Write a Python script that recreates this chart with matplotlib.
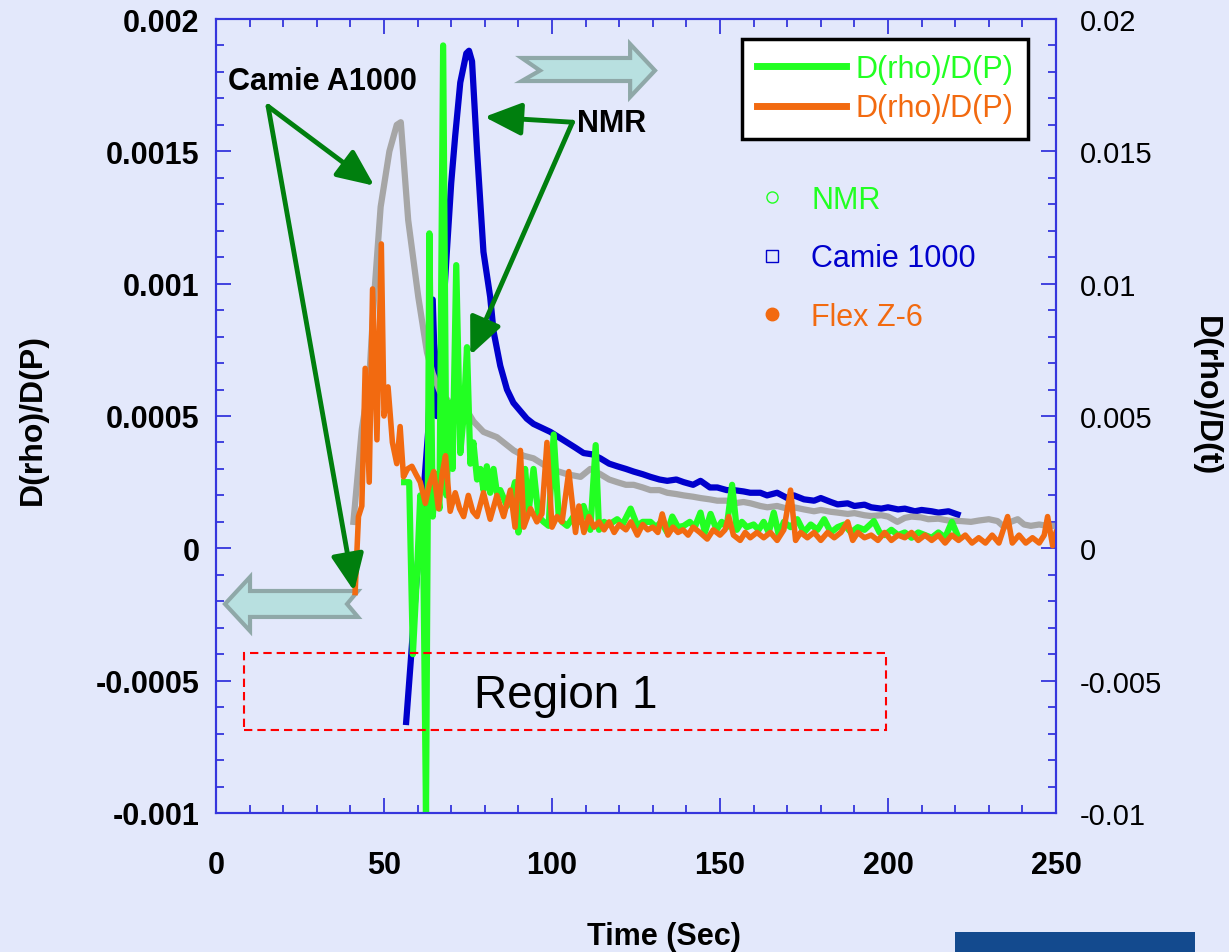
import matplotlib
matplotlib.use('Agg')
import matplotlib.pyplot as plt
from matplotlib.lines import Line2D
from matplotlib.patches import Polygon, Rectangle
from matplotlib.ticker import MultipleLocator, FuncFormatter

plt.rcParams['font.family'] = ['Liberation Sans', 'DejaVu Sans']

# NMR, D(rho)/D(P) -> left axis  (time, value)
nmr_pts = [(56.0, 0.00025), (57.5, 0.00025), (58.6, -0.0004), (59.8, -0.0001), (60.8, 0.0002),
           (61.6, 0.0001), (62.5, -0.001), (63.5, 0.00119), (64.5, 0.00012), (65.5, 0.00028),
           (66.5, 0.00015), (67.6, 0.0019), (68.6, 0.0002), (69.6, 0.00055), (70.4, 0.0003),
           (71.5, 0.00107), (72.7, 0.00036), (73.7, 0.0005), (74.7, 0.00076), (75.7, 0.00032),
           (76.6, 0.0004), (77.7, 0.00026), (78.7, 0.0003), (79.6, 0.00022), (80.6, 0.00031),
           (81.6, 0.00021), (82.6, 0.0003), (83.6, 0.00021), (84.6, 0.00022), (85.6, 0.00019),
           (86.6, 0.00016), (88.0, 0.0002), (89.0, 0.00025), (90.0, 0.00006), (91.0, 0.0002),
           (92.0, 0.0003), (93.0, 0.000135), (94.5, 0.0003), (96.0, 0.00012), (97.5, 0.0001),
           (99.0, 0.000085), (100.5, 0.00043), (102.0, 0.00012), (103.0, 0.0001), (104.5, 0.000085),
           (106.4, 0.00012), (108.0, 0.0001), (109.4, 0.00016), (111.4, 0.00007), (113.0, 0.00039),
           (114.0, 0.00007), (115.5, 0.0001), (117.0, 0.00009), (119.4, 0.00011), (121.0, 0.00009),
           (123.4, 0.00015), (125.4, 0.000085), (127.0, 0.0001), (129.3, 0.0001), (131.0, 0.00008),
           (132.5, 0.0001), (134.3, 0.00006), (135.8, 0.00012), (137.5, 0.00008), (139.2, 0.000085),
           (141.0, 0.0001), (142.5, 0.00008), (144.2, 0.000135), (145.5, 0.00006), (147.2, 0.00013),
           (149.0, 0.00007), (150.5, 0.0001), (152.0, 0.00008), (153.6, 0.00024), (155.0, 0.00007),
           (156.5, 0.0001), (158.0, 0.00008), (160.0, 0.00009), (161.5, 0.00007), (163.0, 0.0001),
           (164.5, 0.00006), (166.0, 0.000135), (167.5, 0.00005), (169.0, 0.0001), (171.0, 0.00008),
           (173.0, 0.00011), (175.0, 0.00006), (177.0, 0.00009), (179.0, 0.00007), (181.0, 0.00011),
           (183.0, 0.00006), (185.0, 0.00008), (187.0, 0.00009), (189.0, 0.00006), (191.0, 0.00008),
           (193.0, 0.00007), (195.8, 0.000103), (197.5, 0.00006), (199.0, 0.00005), (201.0, 0.00007),
           (203.0, 0.00005), (205.0, 0.00006), (207.0, 0.00004), (209.0, 0.00006), (211.0, 0.00005),
           (213.0, 0.00004), (215.0, 0.00006), (217.0, 0.00004), (219.0, 0.0001), (221.0, 0.00004)]

# Flex Z-6, D(rho)/D(P) -> left axis
flex_pts = [(41.4, -0.000167), (42.4, 0.00012), (43.4, 0.00016), (44.4, 0.00068), (45.6, 0.00025),
            (46.6, 0.00098), (47.9, 0.00041), (49.2, 0.00115), (50.0, 0.0005), (51.2, 0.00061),
            (52.5, 0.0004), (53.8, 0.00032), (54.8, 0.00046), (55.8, 0.00027), (57.0, 0.0003),
            (58.3, 0.00031), (59.5, 0.00028), (60.8, 0.00025), (62.3, 0.00017), (63.5, 0.00024),
            (64.8, 0.00029), (66.2, 0.00015), (67.3, 0.00028), (68.3, 0.00035), (69.7, 0.00014),
            (71.2, 0.00021), (72.5, 0.00015), (73.7, 0.00012), (75.1, 0.0002), (76.4, 0.00014),
            (77.7, 0.00012), (79.6, 0.00021), (81.6, 0.00011), (83.6, 0.0002), (85.6, 0.00012),
            (87.6, 0.00022), (89.0, 0.00008), (90.6, 0.00037), (91.6, 0.00008), (93.6, 0.00015),
            (95.5, 0.0001), (97.0, 0.00013), (98.5, 0.0004), (100.0, 0.00008), (101.5, 0.00012),
            (103.0, 0.0001), (105.0, 0.00029), (107.0, 0.00006), (108.0, 0.00016), (109.5, 0.00006),
            (111.0, 0.00012), (112.5, 0.00008), (114.0, 0.0001), (115.5, 0.00007), (117.0, 0.0001),
            (118.5, 0.00006), (120.0, 0.00009), (122.0, 0.00007), (123.5, 0.0001), (125.4, 0.00005),
            (127.0, 0.00009), (128.5, 0.00007), (130.0, 0.00008), (131.5, 0.00006), (132.8, 0.00013),
            (134.5, 0.00005), (136.0, 0.00008), (137.5, 0.00006), (139.0, 0.00007), (140.5, 0.00005),
            (142.0, 0.00008), (144.0, 0.00006), (146.2, 0.000035), (148.0, 0.00007), (150.0, 0.00005),
            (151.5, 0.00007), (152.6, 0.00012), (154.0, 0.00005), (156.0, 0.00003), (157.5, 0.00006),
            (159.0, 0.00004), (161.0, 0.00006), (163.0, 0.00004), (165.0, 0.00006), (167.0, 0.00003),
            (169.0, 0.00007), (171.0, 0.00022), (172.5, 0.00003), (174.0, 0.00006), (176.0, 0.00004),
            (178.0, 0.00006), (180.0, 0.00003), (182.0, 0.00006), (184.0, 0.00004), (186.0, 0.00006),
            (188.0, 0.0001), (189.5, 0.00003), (191.0, 0.00006), (193.0, 0.00004), (195.0, 0.00005),
            (197.0, 0.00003), (199.0, 0.00006), (201.0, 0.00003), (203.0, 0.00005), (205.0, 0.00004),
            (207.0, 0.00006), (209.0, 0.00003), (211.0, 0.00005), (213.0, 0.00003), (215.0, 0.00005),
            (217.0, 0.00002), (219.0, 0.00005), (221.0, 0.00003), (223.0, 0.00005), (225.0, 0.00002),
            (227.0, 0.00004), (229.0, 0.00002), (231.0, 0.00005), (233.0, 0.00002), (235.6, 0.00012),
            (237.0, 0.00002), (239.0, 0.00005), (241.0, 0.00002), (243.0, 0.00004), (245.0, 0.00002),
            (246.5, 0.00005), (247.5, 0.00012), (249.0, 0.00001), (250.0, 0.00006)]

# Camie 1000, D(rho)/D(t) -> right axis
camie_pts = [(56.6, -0.00656), (58.0, -0.0042), (59.8, -0.001), (61.7, 0.002), (63.2, 0.0045),
             (64.5, 0.0094), (65.6, 0.005), (67.5, 0.0087), (68.7, 0.0112), (70.0, 0.0138),
             (71.2, 0.0156), (72.7, 0.0176), (74.5, 0.0187), (75.3, 0.0188), (76.2, 0.0184),
             (77.7, 0.015), (79.6, 0.0112), (81.6, 0.0095), (82.6, 0.0082), (84.6, 0.0069),
             (86.6, 0.006), (88.5, 0.0055), (90.5, 0.0052), (92.5, 0.0049), (94.5, 0.0047),
             (97.0, 0.00455), (99.5, 0.0044), (102.0, 0.0042), (104.5, 0.004), (107.0, 0.0038),
             (109.4, 0.0036), (112.0, 0.00355), (114.4, 0.0034), (117.0, 0.0032), (119.4, 0.0031),
             (122.0, 0.003), (124.3, 0.0029), (127.0, 0.0028), (129.3, 0.0027), (132.0, 0.0026),
             (134.3, 0.00255), (137.0, 0.0026), (139.2, 0.0025), (142.0, 0.0024), (144.2, 0.00255),
             (147.0, 0.0023), (149.2, 0.0023), (152.0, 0.0022), (154.1, 0.0022), (157.0, 0.00215),
             (159.0, 0.0021), (162.0, 0.0021), (164.0, 0.002), (167.0, 0.0021), (170.0, 0.0019),
             (172.0, 0.002), (175.0, 0.00185), (178.0, 0.0018), (180.0, 0.0019), (183.0, 0.00175),
             (185.0, 0.00166), (188.0, 0.0017), (190.0, 0.0016), (193.0, 0.00165), (195.0, 0.00155),
             (198.0, 0.0015), (200.0, 0.00155), (203.0, 0.00147), (205.0, 0.0015), (208.0, 0.0014),
             (210.0, 0.00145), (213.0, 0.0014), (215.0, 0.00135), (218.0, 0.0014), (220.7, 0.00128)]

# Camie A1000 (grey), D(rho)/D(t) -> right axis
camie_a_pts = [(40.9, 0.001), (43.4, 0.0045), (45.5, 0.0062), (47.0, 0.0094), (49.0, 0.0129),
               (51.6, 0.015), (53.8, 0.016), (55.0, 0.0161), (57.2, 0.0124), (60.2, 0.0095),
               (62.8, 0.0074), (64.5, 0.0066), (66.7, 0.0059), (69.7, 0.0055), (72.0, 0.0054),
               (74.7, 0.0052), (76.6, 0.0048), (79.6, 0.0044), (83.6, 0.0042), (86.6, 0.0039),
               (88.6, 0.0037), (91.5, 0.0035), (94.5, 0.0034), (97.0, 0.0032), (99.5, 0.003),
               (102.0, 0.0029), (104.5, 0.0028), (108.5, 0.0027), (111.4, 0.003), (114.4, 0.0028),
               (117.0, 0.0026), (119.4, 0.0025), (122.0, 0.0024), (124.3, 0.0024), (127.0, 0.0023),
               (129.3, 0.0022), (132.0, 0.0022), (134.3, 0.0021), (137.0, 0.00205), (139.2, 0.002),
               (142.0, 0.00195), (144.2, 0.0019), (147.0, 0.00185), (149.2, 0.0018), (152.0, 0.0018),
               (154.1, 0.0017), (157.0, 0.00175), (159.1, 0.0017), (162.0, 0.0016), (164.1, 0.00155),
               (167.0, 0.0016), (170.0, 0.0015), (172.0, 0.00155), (175.0, 0.00147), (178.0, 0.0014),
               (180.0, 0.00145), (183.0, 0.00138), (185.0, 0.00135), (188.0, 0.0013), (190.0, 0.00133),
               (193.0, 0.00125), (195.0, 0.00122), (198.0, 0.00125), (200.0, 0.0012), (202.8, 0.001),
               (205.0, 0.00115), (207.0, 0.0012), (209.8, 0.00117), (212.0, 0.0011), (215.0, 0.00112),
               (218.0, 0.00105), (221.7, 0.00103), (224.7, 0.001), (227.0, 0.00105), (230.0, 0.0011),
               (232.6, 0.00103), (234.6, 0.0008), (236.5, 0.001), (238.6, 0.0011), (240.5, 0.0009),
               (242.5, 0.00085), (245.0, 0.0009), (247.5, 0.00085), (250.0, 0.00085)]

bg = '#E3E8FB'
green = '#22FF22'
orange = '#F26A10'
blue = '#0000CC'
grey = '#A6A6A6'
dark_green = '#007F0E'
axis_blue = '#3535DD'

fig = plt.figure(figsize=(12.29, 9.53), dpi=100, facecolor=bg)
ax = fig.add_axes([216/1229, 1-814/953, 840/1229, 794/953])
ax2 = ax.twinx()
ax.set_zorder(ax2.get_zorder() + 1)
ax.patch.set_visible(False)

t, v = zip(*camie_pts)
ax2.plot(t, v, color=blue, lw=4.5)
t, v = zip(*camie_a_pts)
ax2.plot(t, v, color=grey, lw=4.5)
t, v = zip(*nmr_pts)
ax.plot(t, v, color=green, lw=4.5)
t, v = zip(*flex_pts)
ax.plot(t, v, color=orange, lw=4)

ax.set_xlim(0, 250)
ax.set_ylim(-0.001, 0.002)
ax2.set_ylim(-0.01, 0.02)

for a in (ax, ax2):
    for s in a.spines.values():
        s.set_color(axis_blue)
        s.set_linewidth(1.5)

fmt = FuncFormatter(lambda x, p: '%g' % x)
ax.xaxis.set_major_locator(MultipleLocator(50))
ax.xaxis.set_minor_locator(MultipleLocator(10))
ax.yaxis.set_major_locator(MultipleLocator(0.0005))
ax.yaxis.set_minor_locator(MultipleLocator(0.0001))
ax2.yaxis.set_major_locator(MultipleLocator(0.005))
ax2.yaxis.set_minor_locator(MultipleLocator(0.001))
ax.yaxis.set_major_formatter(fmt)
ax2.yaxis.set_major_formatter(fmt)

ax.tick_params(axis='x', which='both', direction='in', top=True, bottom=True, color=axis_blue, width=1.3)
ax.tick_params(axis='x', which='major', length=11, pad=27, labelsize=22)
ax.tick_params(axis='x', which='minor', length=6)
ax.tick_params(axis='y', which='both', direction='in', color=axis_blue, width=1.3)
ax.tick_params(axis='y', which='major', length=11, pad=12, labelsize=22)
ax.tick_params(axis='y', which='minor', length=6)
ax2.tick_params(axis='y', which='both', direction='in', color=axis_blue, width=1.3)
ax2.tick_params(axis='y', which='major', length=11, pad=17, labelsize=21)
ax2.tick_params(axis='y', which='minor', length=6)
for lab in ax.get_xticklabels() + ax.get_yticklabels():
    lab.set_fontweight('bold')

fig.text(664/1229, 1-937/953, 'Time (Sec)', ha='center', va='center', fontsize=22, weight='bold')
fig.text(33/1229, 1-420/953, 'D(rho)/D(P)', ha='center', va='center', rotation=90,
         fontsize=23, weight='bold')
fig.text(1206/1229, 1-396/953, 'D(rho)/D(t)', ha='center', va='center', rotation=270,
         fontsize=23, weight='bold')

# legend box
h1 = [Line2D([], [], color=green, lw=5), Line2D([], [], color=orange, lw=5)]
leg = ax.legend(h1, ['D(rho)/D(P)', 'D(rho)/D(P)'], loc='upper right', bbox_to_anchor=(0.967, 0.975),
                fontsize=22, labelcolor='linecolor', frameon=True, fancybox=False, edgecolor='black',
                framealpha=1, handlelength=2.9, borderpad=0.5, labelspacing=0.3, handletextpad=0.3,
                borderaxespad=0)
leg.get_frame().set_linewidth(2.5)
ax.add_artist(leg)

# marker key
h2 = [Line2D([], [], ls='none', marker='o', ms=8, mfc='none', mec=green),
      Line2D([], [], ls='none', marker='s', ms=8, mfc='none', mec=blue),
      Line2D([], [], ls='none', marker='o', ms=9, mfc=orange, mec=orange)]
leg2 = ax.legend(h2, ['NMR', 'Camie 1000', 'Flex Z-6'], loc='upper left', bbox_to_anchor=(0.644, 0.791),
                 frameon=False, fontsize=22, handlelength=1, handletextpad=0.77, labelspacing=0.93,
                 borderpad=0, borderaxespad=0)
for txt, c in zip(leg2.get_texts(), [green, blue, orange]):
    txt.set_color(c)

# call-out arrows
arrow_kw = dict(arrowstyle='-|>,head_length=0.9,head_width=0.4', color=dark_green, lw=3.5,
                shrinkA=0, shrinkB=0, mutation_scale=25)
ax.annotate('', xy=(47.1, 0.00137), xytext=(15.5, 0.00167), arrowprops=arrow_kw)
ax.annotate('', xy=(41.1, -0.000162), xytext=(15.5, 0.00167), arrowprops=arrow_kw)
ax.text(31.7, 0.001764, 'Camie A1000', ha='center', va='center', fontsize=22, weight='bold')
ax.annotate('', xy=(79.9, 0.00163), xytext=(106.1, 0.00161), arrowprops=arrow_kw)
ax.annotate('', xy=(75.7, 0.00073), xytext=(106.1, 0.00161), arrowprops=arrow_kw)
ax.text(117.6, 0.001606, 'NMR', ha='center', va='center', fontsize=22, weight='bold')

# block arrows (axes fractions)
right_arrow = [(0.364, 0.9509), (0.493, 0.9509), (0.493, 0.9685), (0.5226, 0.9351), (0.493, 0.9018),
               (0.493, 0.9219), (0.364, 0.9219), (0.3857, 0.9351)]
left_arrow = [(0.169, 0.2796), (0.0405, 0.2796), (0.0405, 0.2972), (0.0107, 0.2632), (0.0405, 0.2292),
              (0.0405, 0.2469), (0.169, 0.2469), (0.156, 0.2632)]
for pts in (right_arrow, left_arrow):
    ax.add_patch(Polygon(pts, closed=True, transform=ax.transAxes, fc='#B8E0E0', ec='#8FA8A8',
                         lw=3, zorder=1))

# Region 1 box
ax.add_patch(Rectangle((8.3, -0.000688), 191, 0.000291, fill=False, ec='red', lw=1.5,
                       ls=(0, (4, 2.4)), zorder=5))
ax.text(104, -0.000555, 'Region 1', ha='center', va='center', fontsize=33)

fig.add_artist(Rectangle((955/1229, 0), 240/1229, 20/953, transform=fig.transFigure,
                         fc='#134A8E', ec='none'))

fig.savefig('out.png', dpi=100, facecolor=bg)
